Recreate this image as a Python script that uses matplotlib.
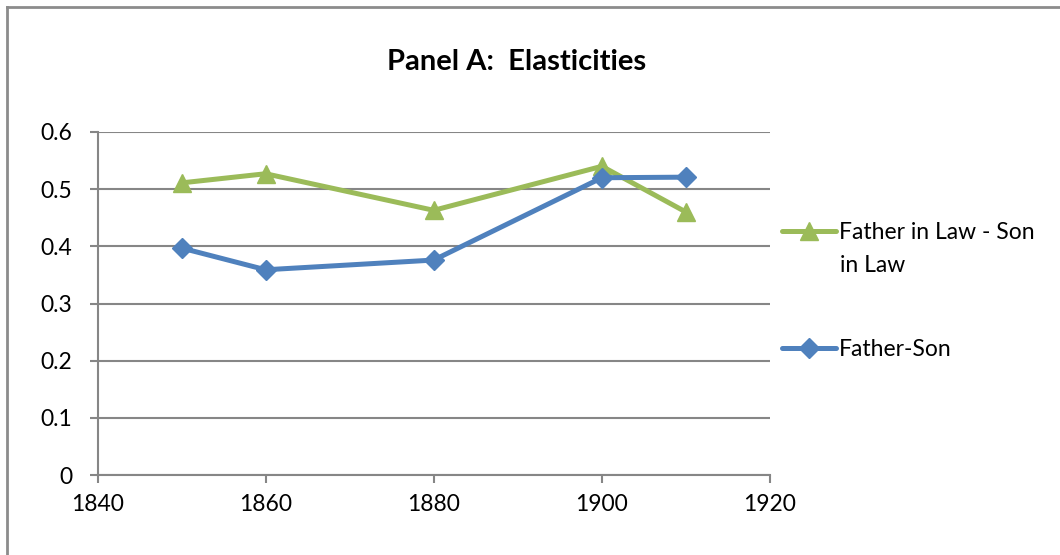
import matplotlib
matplotlib.use("Agg")
import matplotlib.pyplot as plt
from matplotlib.lines import Line2D

years = [1850, 1860, 1880, 1900, 1910]
father_in_law = [0.511, 0.527, 0.463, 0.540, 0.460]
father_son = [0.397, 0.359, 0.376, 0.520, 0.521]
yticks = [0, 0.1, 0.2, 0.3, 0.4, 0.5, 0.6]
xticks = [1840, 1860, 1880, 1900, 1920]
labels = ["Father in Law - Son", "Father-Son"]
label_cont = "in Law"
title = "Panel A:  Elasticities"

plt.rcParams['font.family'] = ['Lato', 'DejaVu Sans']
green = '#9BBB59'
blue = '#4F81BD'
grid = '#868686'
fs = 16.5

fig = plt.figure(figsize=(10.6, 5.55), dpi=100)
ax = fig.add_axes([97.5/1060, 1-475/555, (770-97.5)/1060, (475-132)/555])

ax.plot(years, father_in_law, color=green, lw=3.6, marker='^', ms=13, label=labels[0],
        solid_capstyle='round', solid_joinstyle='round')
ax.plot(years, father_son, color=blue, lw=3.6, marker='D', ms=10, label=labels[1],
        solid_capstyle='round', solid_joinstyle='round')

ax.set_xlim(1840, 1920)
ax.set_ylim(0, 0.6)
ax.set_xticks(xticks)
ax.set_yticks(yticks)
ax.set_yticklabels(['0', '0.1', '0.2', '0.3', '0.4', '0.5', '0.6'])
ax.yaxis.grid(True, color=grid, lw=1.5)
ax.set_axisbelow(True)
for s in ['top', 'right']:
    ax.spines[s].set_visible(False)
for s in ['left', 'bottom']:
    ax.spines[s].set_color(grid)
    ax.spines[s].set_linewidth(1.5)
ax.tick_params(axis='both', direction='out', length=6, width=1.5, color=grid,
               labelsize=fs, labelcolor='black')
ax.tick_params(axis='y', pad=12)
ax.tick_params(axis='x', pad=8)

fig.text(517/1060, 1-62/555, title, ha='center', va='center', fontsize=21, fontweight='bold')

leg = ax.legend(loc='center left', bbox_to_anchor=(782/1060, 1-291/555), bbox_transform=fig.transFigure,
                frameon=False, fontsize=fs, handlelength=2.35, handletextpad=0.15,
                labelspacing=4.2, borderaxespad=0, borderpad=0)
fig.text(840/1060, 1-265/555, label_cont, ha='left', va='center', fontsize=fs)

fig.add_artist(Line2D([6.5/1060, 6.5/1060], [0, 1-6.5/555], transform=fig.transFigure, color='#8c8c8c', lw=2))
fig.add_artist(Line2D([6.5/1060, 1], [1-6.5/555, 1-6.5/555], transform=fig.transFigure, color='#8c8c8c', lw=2))

fig.savefig('out.png', dpi=100)
